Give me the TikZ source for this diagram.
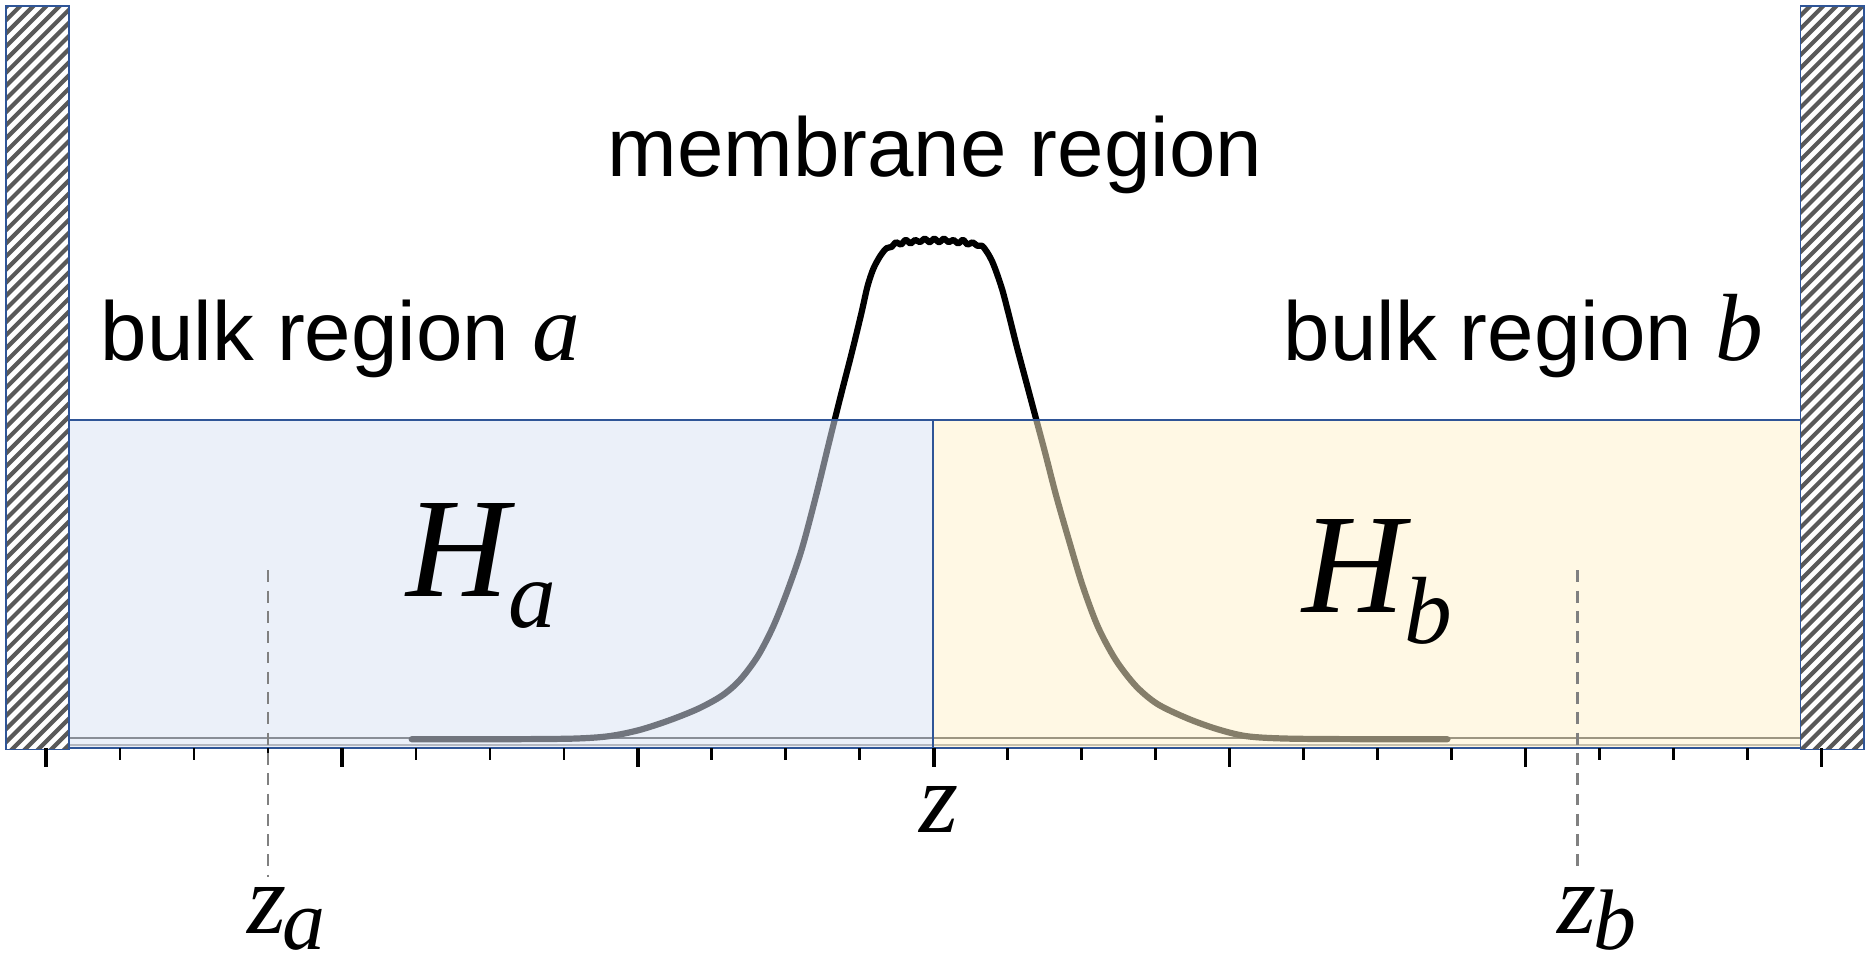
\documentclass[tikz,border=0pt]{standalone}
\usepackage{fontspec}
\setmainfont{Liberation Serif}
\newfontfamily\sansf{Liberation Sans}
\definecolor{wallgray}{HTML}{595959}
\definecolor{edgeblue}{HTML}{2F5597}
\definecolor{fillA}{HTML}{D9E2F3}
\definecolor{fillB}{HTML}{FFF2CC}
\newcommand{\fs}[1]{\fontsize{#1}{#1}\selectfont}
\newcommand{\mi}[1]{{\rmfamily\itshape #1}}
\begin{document}
\begin{tikzpicture}[x=0.5pt,y=-0.5pt,
  wallline/.style={wallgray,line width=1.75pt},
  edge/.style={edgeblue,line width=0.7pt},
  majortick/.style={black,line width=1.5pt},
  minortick/.style={black,line width=1.1pt},
  guide/.style={black!50,line width=1pt,dash pattern=on 5pt off 3.5pt},
  lbl/.style={inner sep=0pt,font=\sansf\fs{35}},
  sym/.style={inner sep=0pt,font=\rmfamily\itshape}]
\useasboundingbox (0,0) rectangle (1568,809);
% hatched walls
\begin{scope}
  \clip (5,5) rectangle (58,628);
  \foreach \k in {0,...,66} \draw[wallline] (0,\k*11) -- ++(80,-80);
\end{scope}
\draw[edge,fill=none] (5,5) rectangle (58,628);
\begin{scope}
  \clip (1509,5) rectangle (1562,628);
  \foreach \k in {0,...,66} \draw[wallline] (1500,\k*11) -- ++(80,-80);
\end{scope}
\draw[edge] (1509,5) rectangle (1562,628);
% baseline lines
\draw[black!80,line width=1.2pt] (58,618.5) -- (1509,618.5);
\draw[black!45,line width=1pt] (58,624.5) -- (1509,624.5);
% density profile
\draw[black,line width=2.6pt,line join=round,line cap=round] plot[smooth,tension=0.5] coordinates {
(345,619.5) (420,619.5) (480,619) (510,617) (535,612) (560,604) (585,594) (605,583) (620,570) (635,550) (648,525) (660,495) (672,460) (684,415) (695,370) (705,330) (714,295) (722,262) (727,240) (732,225) (738,214) (743,208) (747,207) (751,203) (755,205) (759,201) (763,204) (767,201) (771,203) (775,200) (779,203) (783,200) (787,203) (791,200) (795,203) (799,201) (803,204) (807,201) (811,205) (815,203) (819,206) (823,206) (827,211) (831,218) (835,228) (840,243) (845,262) (852,290) (860,320) (868,350) (876,380) (885,415) (895,450) (907,490) (920,525) (935,553) (952,575) (970,590) (995,602) (1020,611) (1045,617) (1080,619) (1150,619.5) (1213,619.5)};
% regions
\fill[fillA,fill opacity=0.52] (58,352) rectangle (782,627);
\fill[fillB,fill opacity=0.52] (782,352) rectangle (1509,627);
\draw[edge] (58,352) rectangle (782,627);
\draw[edge] (782,352) rectangle (1509,627);
% ticks
\foreach \i in {0,...,6} {
  \draw[majortick] (38.5+248*\i,627) -- ++(0,16);
}
\foreach \i in {0,...,5} {
  \foreach \j in {1,2,3} {
    \draw[minortick] (38.5+248*\i+62*\j,627) -- ++(0,10);
  }
}
% guides
\coordinate (zaT) at (224.5,478);
\coordinate (zaB) at (224.5,735);
\coordinate (zbT) at (1322,478);
\coordinate (zbB) at (1322,730);
\draw[guide] (zaT) -- (zaB);
\draw[guide] (zbT) -- (zbB);
% labels
\node[lbl,anchor=base] (memb) at (783.5,148) {membrane region};
\node[lbl,anchor=base west] (bulka) at (84,302) {bulk region \mi{\fs{40}a}};
\node[lbl,anchor=base east] (bulkb) at (1478,302) {bulk region \mi{\fs{40}b}};
\node[sym,anchor=base west,font=\rmfamily\itshape\fs{59.5}] (Ha) at (340,500) {H\raisebox{-13pt}{\fs{40}a}};
\node[sym,anchor=base west,font=\rmfamily\itshape\fs{59.5}] (Hb) at (1091,513) {H\raisebox{-13pt}{\fs{40}b}};
\node[sym,anchor=base,font=\rmfamily\itshape\fs{42}] (zc) at (787,698) {z};
\node[sym,anchor=base west,font=\rmfamily\itshape\fs{42}] (za) at (207,782) {z\kern-1.5pt\raisebox{-7pt}{\fs{36}a}};
\node[sym,anchor=base west,font=\rmfamily\itshape\fs{42}] (zb) at (1305,782) {z\kern-1.5pt\raisebox{-7pt}{\fs{36}b}};
\end{tikzpicture}
\end{document}
